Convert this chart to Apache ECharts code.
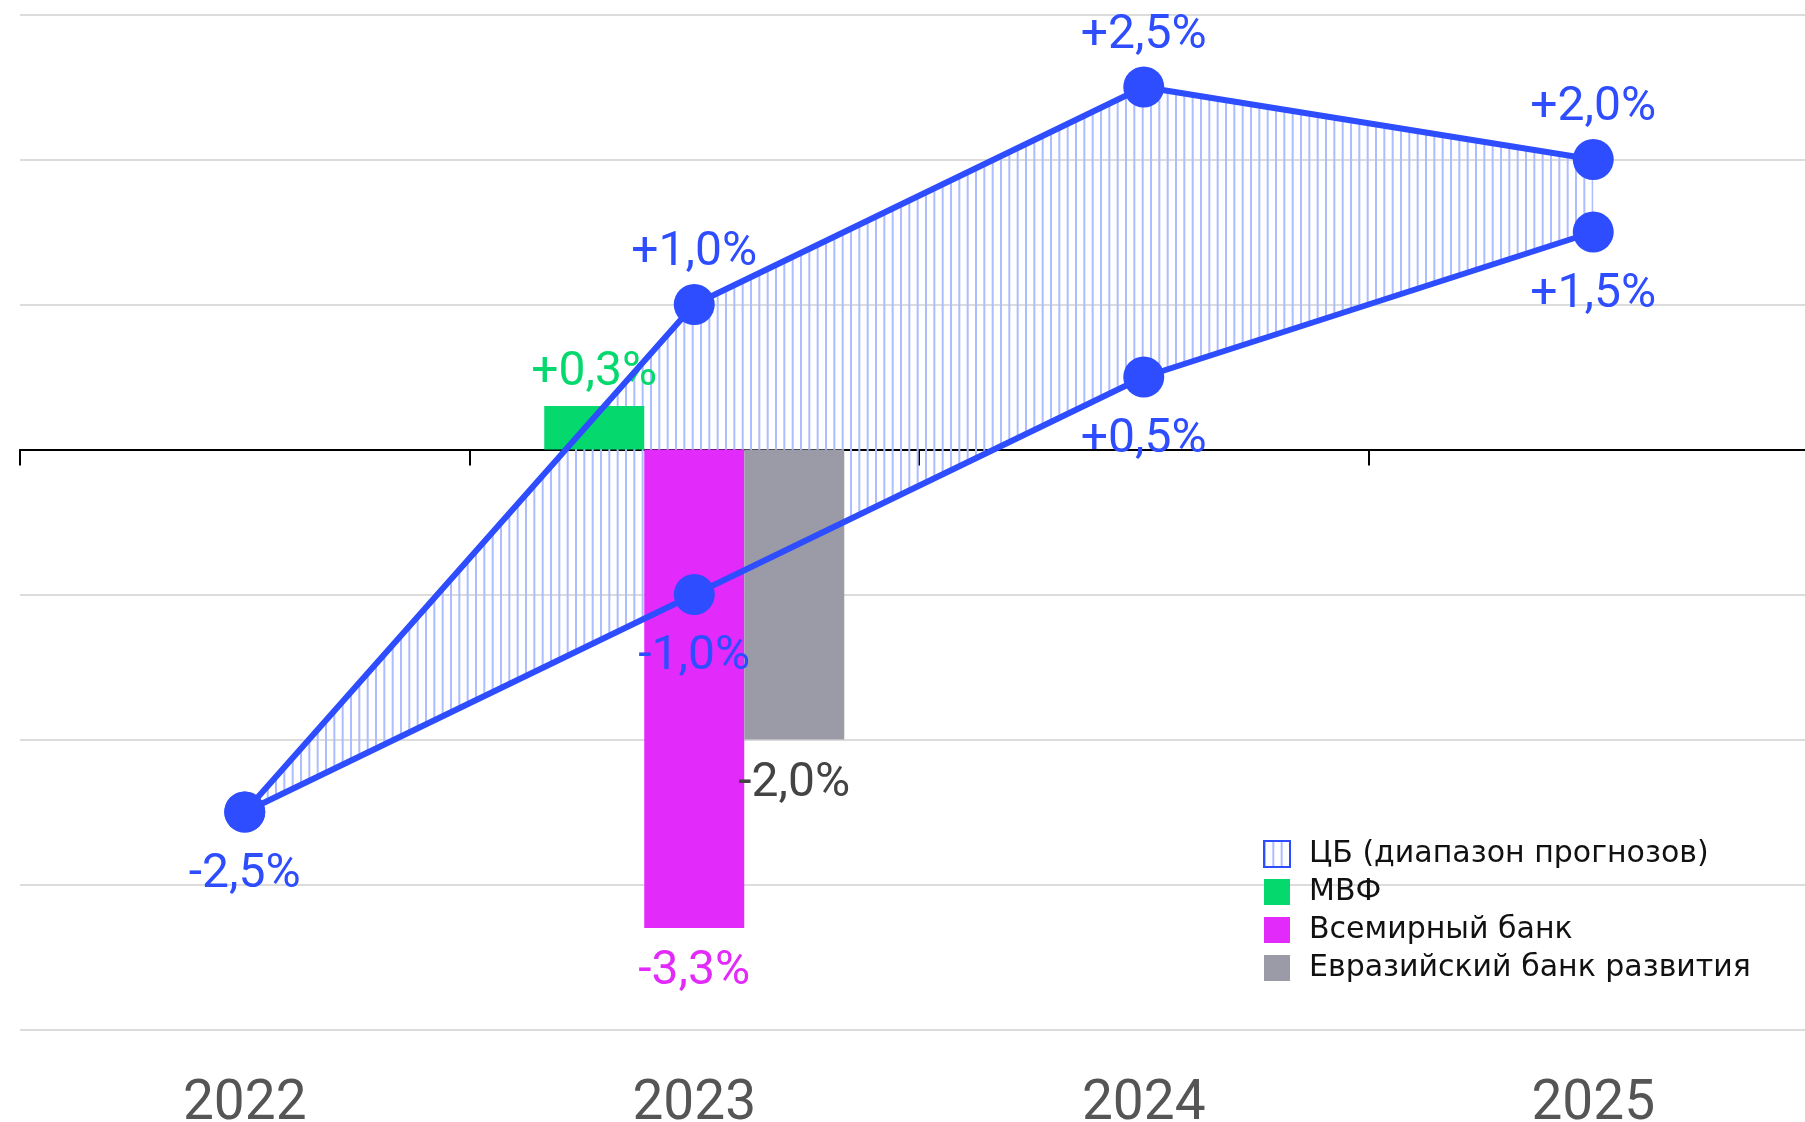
<!DOCTYPE html>
<html>
<head>
<meta charset="utf-8">
<script src="https://cdn.jsdelivr.net/npm/echarts@6/dist/echarts.min.js"></script>
<style>
html,body{margin:0;padding:0;background:#fff;}
#chart{width:1805px;height:1122px;}
</style>
</head>
<body>
<div id="chart"></div>
<script>
// ---- data ----
const years = ['2022', '2023', '2024', '2025'];
const cbUpper = [-2.5, 1.0, 2.5, 2.0];
const cbLower = [-2.5, -1.0, 0.5, 1.5];
const imf = [null, 0.3, null, null];
const worldBank = [null, -3.3, null, null];
const eadb = [null, -2.0, null, null];
const yTicks = { min: -4, max: 3, step: 1 };
const names = {
  cb: 'ЦБ (диапазон прогнозов)',
  imf: 'МВФ',
  wb: 'Всемирный банк',
  eadb: 'Евразийский банк развития'
};

// ---- styling ----
const BLUE = '#2d4dff';
const GREEN = '#05d96e';
const MAGENTA = '#e22bfb';
const GREY = '#9b9ba8';
const FONT = 'Roboto';

function fmt(v) {
  return (v > 0 ? '+' : '') + v.toFixed(1).replace('.', ',') + '%';
}

// hatch pattern
const pc = document.createElement('canvas');
pc.width = 25; pc.height = 10;
const pctx = pc.getContext('2d');
pctx.fillStyle = '#adbdff';
[0, 25 / 3, 50 / 3].forEach(x => pctx.fillRect(x, 0, 2, 10));
const hatch = { image: pc, repeat: 'repeat' };

const bandDiff = cbUpper.map((v, i) => v - cbLower[i]);

const chart = echarts.init(document.getElementById('chart'), null, { renderer: 'canvas' });

const valueLabel = (color, pos, dist) => ({
  show: true, position: pos, distance: dist, color: color,
  fontFamily: FONT, fontSize: 48,
  formatter: p => fmt(p.value)
});

chart.setOption({
  animation: false,
  backgroundColor: '#fff',
  grid: { left: 20, right: -13, top: 14.5, bottom: 92.5, containLabel: false, outerBoundsMode: 'none' },
  legend: {
    orient: 'vertical',
    left: 1258, top: 834,
    itemWidth: 26, itemHeight: 26, itemGap: 8,
    textStyle: { fontFamily: 'DejaVu Sans', fontSize: 30, color: '#111', padding: [0, 0, 0, 14] },
    selectedMode: false,
    data: [
      { name: names.cb, icon: 'rect', itemStyle: { color: hatch, borderColor: BLUE, borderWidth: 2 } },
      { name: names.imf, icon: 'rect' },
      { name: names.wb, icon: 'rect' },
      { name: names.eadb, icon: 'rect' }
    ]
  },
  xAxis: [
    {
      type: 'category', data: years, boundaryGap: true,
      axisLine: { show: true, onZero: true, lineStyle: { color: '#000', width: 2 } },
      axisTick: { show: true, length: 16, lineStyle: { color: '#000', width: 2 } },
      axisLabel: { show: false },
      splitLine: { show: false }
    },
    {
      type: 'category', data: years, boundaryGap: true, position: 'bottom',
      axisLine: { show: false, onZero: false },
      axisTick: { show: false },
      axisLabel: { show: true, margin: 48, color: '#555', fontFamily: FONT, fontSize: 55 },
      splitLine: { show: false }
    }
  ],
  yAxis: {
    type: 'value', min: yTicks.min, max: yTicks.max, interval: yTicks.step,
    axisLine: { show: false }, axisTick: { show: false }, axisLabel: { show: false },
    splitLine: { show: true, lineStyle: { color: '#dcdcdc', width: 2 } }
  },
  series: [
    {
      name: 'bandBase', type: 'line', data: cbLower, stack: 'band', stackStrategy: 'all',
      symbol: 'none', lineStyle: { width: 0, opacity: 0 }, silent: true, z: 1
    },
    {
      name: names.cb, type: 'line', data: bandDiff, stack: 'band', stackStrategy: 'all',
      symbol: 'none', lineStyle: { width: 0, opacity: 0 }, silent: true, z: 1,
      itemStyle: { color: BLUE },
      areaStyle: { color: hatch, opacity: 1 }
    },
    {
      name: names.imf, type: 'bar', data: imf, barWidth: 100, barGap: '0%', z: 2,
      itemStyle: { color: GREEN },
      label: valueLabel(GREEN, 'top', 9)
    },
    {
      name: names.wb, type: 'bar', data: worldBank, barWidth: 100, barGap: '0%', z: 2,
      itemStyle: { color: MAGENTA },
      label: valueLabel(MAGENTA, 'bottom', 20)
    },
    {
      name: names.eadb, type: 'bar', data: eadb, barWidth: 100, barGap: '0%', z: 2,
      itemStyle: { color: GREY },
      label: valueLabel('#444', 'bottom', 20)
    },
    {
      name: 'upper', type: 'line', data: cbUpper.map((v, i) => i === 0 ? { value: v, label: { show: false } } : v),
      z: 3, symbol: 'circle', symbolSize: 41, color: BLUE,
      lineStyle: { color: BLUE, width: 6 }, itemStyle: { color: BLUE },
      label: valueLabel(BLUE, 'top', 7)
    },
    {
      name: 'lower', type: 'line', data: cbLower,
      z: 3, symbol: 'circle', symbolSize: 41, color: BLUE,
      lineStyle: { color: BLUE, width: 6 }, itemStyle: { color: BLUE },
      label: valueLabel(BLUE, 'bottom', 18)
    }
  ]
});
</script>
</body>
</html>
